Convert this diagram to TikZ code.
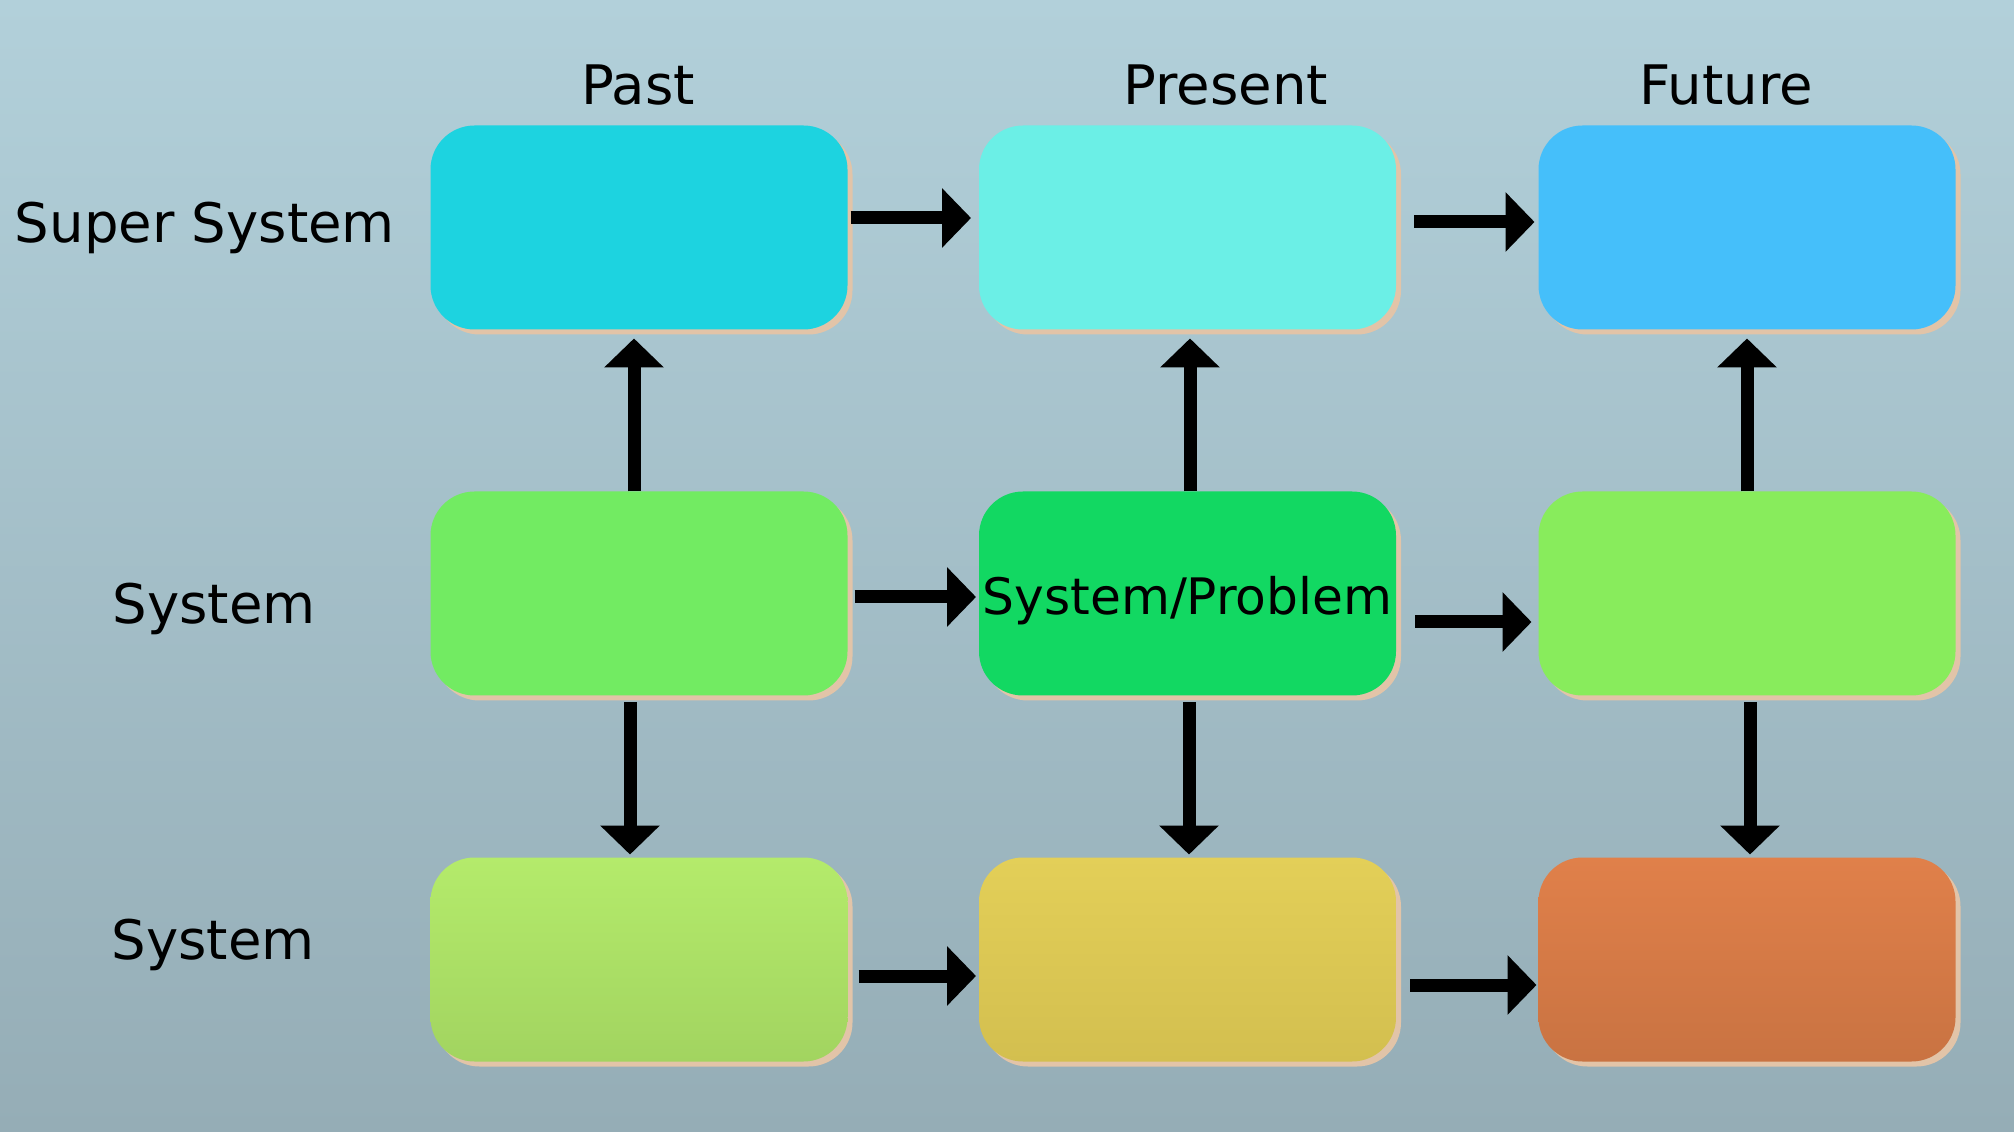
\documentclass[tikz,border=0pt]{standalone}
\usepackage{fontspec}
\setmainfont{DejaVu Sans}
\usepackage{xcolor}
\usetikzlibrary{arrows.meta, shadows}

\definecolor{bgtop}{HTML}{B2D0DA}
\definecolor{bgmid}{HTML}{BEDEE7}
\definecolor{bgbot}{HTML}{95ADB6}
\definecolor{shtan}{HTML}{E2C4A8}
\definecolor{supA}{HTML}{1DD3E0}
\definecolor{supB}{HTML}{6BEFE6}
\definecolor{supC}{HTML}{45BFFA}
\definecolor{sysA}{HTML}{72EB62}
\definecolor{sysB}{HTML}{12D862}
\definecolor{sysC}{HTML}{88EC5C}
\definecolor{subAt}{HTML}{B4EB6B}
\definecolor{subAb}{HTML}{A2D460}
\definecolor{subBt}{HTML}{E3CF58}
\definecolor{subBb}{HTML}{D3BF4F}
\definecolor{subCt}{HTML}{E0804A}
\definecolor{subCb}{HTML}{C97342}

\begin{document}
\begin{tikzpicture}[
    box/.style={rounded corners=0.44cm, minimum width=\wid cm, minimum height=\hei cm,
      inner sep=0pt, outer sep=0pt,
      copy shadow={shadow xshift=0.05cm, shadow yshift=-0.05cm, fill=shtan, draw=none}},
    arr/.style={line width=0.13cm, draw=black, -{Triangle[length=0.29cm,width=0.58cm]}},
    lab/.style={anchor=base, font=\fontsize{15.5}{18}\selectfont}
  ]
      \def\wid{4.17}
      \def\hei{2.04}

      \shade[top color=bgtop, middle color=bgmid, bottom color=bgbot] (0,0) rectangle (20.14,-11.32);

      \node[lab] (tpast) at (6.38,-1.05) {Past};
      \node[lab] (tpres) at (12.26,-1.05) {Present};
      \node[lab] (tfut) at (17.26,-1.05) {Future};

      \node[lab] (lsup) at (2.05,-2.43) {Super System};
      \node[lab] (lsys) at (2.14,-6.24) {System};
      \node[lab] (lsub) at (2.13,-9.59) {System};

      \node[box, fill=supA] (pastsup) at (6.39,-2.275) {};
      \node[box, fill=supB] (pressup) at (11.875,-2.275) {};
      \node[box, fill=supC] (futsup) at (17.47,-2.275) {};

      \node[box, fill=sysA] (pastsys) at (6.39,-5.935) {};
      \node[box, fill=sysB, font=\fontsize{14.3}{16}\selectfont] (pressys) at (11.875,-5.935)
        {\raisebox{-0.21cm}[0pt][0pt]{System/Problem}};
      \node[box, fill=sysC] (futsys) at (17.47,-5.935) {};

      \node[box, top color=subAt, bottom color=subAb] (pastsub) at (6.39,-9.595) {};
      \node[box, top color=subBt, bottom color=subBb] (pressub) at (11.875,-9.595) {};
      \node[box, top color=subCt, bottom color=subCb] (futsub) at (17.47,-9.595) {};

      \draw[arr, shorten <=0.03cm, shorten >=0.08cm] ([yshift=0.095cm]pastsup.east) -- ([yshift=0.095cm]pressup.west);
      \draw[arr, shorten <=0.18cm, shorten >=0.04cm] ([yshift=0.055cm]pressup.east) -- ([yshift=0.055cm]futsup.west);
      \draw[arr, shorten <=0.07cm, shorten >=0.03cm] ([yshift=-0.035cm]pastsys.east) -- ([yshift=-0.035cm]pressys.west);
      \draw[arr, shorten <=0.19cm, shorten >=0.07cm] ([yshift=-0.285cm]pressys.east) -- ([yshift=-0.285cm]futsys.west);
      \draw[arr, shorten <=0.11cm, shorten >=0.03cm] ([yshift=-0.165cm]pastsub.east) -- ([yshift=-0.165cm]pressub.west);
      \draw[arr, shorten <=0.14cm, shorten >=0.02cm] ([yshift=-0.255cm]pressub.east) -- ([yshift=-0.255cm]futsub.west);

      \draw[arr, shorten >=0.09cm] ([xshift=-0.05cm]pastsys.north) -- ([xshift=-0.05cm]pastsup.south);
      \draw[arr, shorten >=0.09cm] ([xshift=0.025cm]pressys.north) -- ([xshift=0.025cm]pressup.south);
      \draw[arr, shorten >=0.09cm] (futsys.north) -- (futsup.south);

      \draw[arr, shorten <=0.07cm, shorten >=0.03cm] ([xshift=-0.09cm]pastsys.south) -- ([xshift=-0.09cm]pastsub.north);
      \draw[arr, shorten <=0.07cm, shorten >=0.03cm] ([xshift=0.015cm]pressys.south) -- ([xshift=0.015cm]pressub.north);
      \draw[arr, shorten <=0.07cm, shorten >=0.03cm] ([xshift=0.03cm]futsys.south) -- ([xshift=0.03cm]futsub.north);
    \end{tikzpicture}
\end{document}
